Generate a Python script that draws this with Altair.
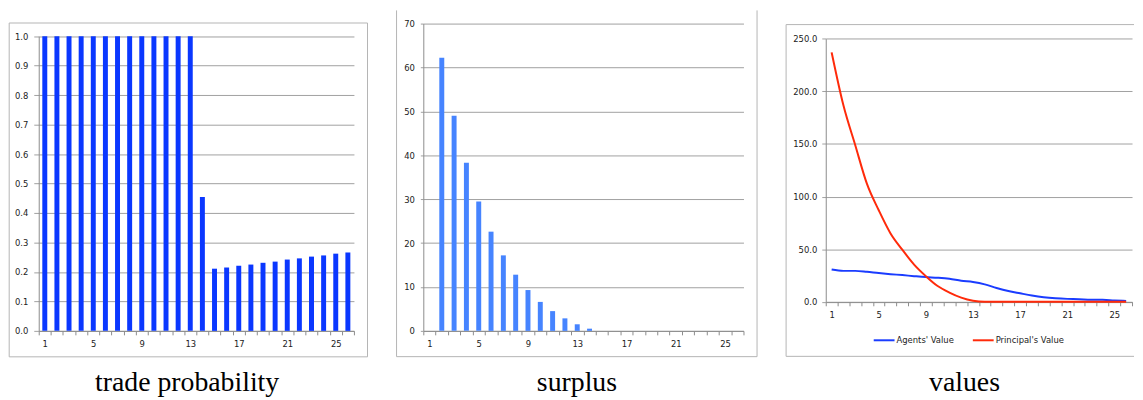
import altair as alt
import pandas as pd

# ---------------- data ----------------
periods = list(range(1, 27))
trade_prob = [1.0, 1.0, 1.0, 1.0, 1.0, 1.0, 1.0, 1.0, 1.0, 1.0, 1.0, 1.0, 1.0,
              0.454, 0.211, 0.215, 0.221, 0.225, 0.231, 0.235, 0.242, 0.246,
              0.252, 0.256, 0.262, 0.266]
surplus = [0.0, 62.2, 49.0, 38.3, 29.5, 22.6, 17.2, 12.8, 9.3, 6.6, 4.5, 2.85,
           1.5, 0.5, 0.0, 0.0, 0.0, 0.0, 0.0, 0.0, 0.0, 0.0, 0.0, 0.0, 0.0, 0.0]
agents_value = [30.7, 29.4, 29.4, 28.5, 27.3, 26.3, 25.4, 24.4, 23.5, 22.9, 21.9,
                20.0, 18.8, 16.6, 13.2, 10.3, 8.1, 6.0, 4.4, 3.4, 2.8, 2.5, 1.9,
                1.9, 1.3, 0.9]
principal_value = [237.0, 186.7, 149.0, 112.0, 87.0, 65.0, 49.5, 35.4, 24.4, 15.0,
                   8.8, 4.0, 1.0, 0.0, 0.0, 0.0, 0.0, 0.0, 0.0, 0.0, 0.0, 0.0,
                   0.0, 0.0, 0.0, 0.0]
series_names = ["Agents' Value", "Principal's Value"]
panel_titles = ["trade probability", "surplus", "values"]
y_ticks_1 = [0.0, 0.1, 0.2, 0.3, 0.4, 0.5, 0.6, 0.7, 0.8, 0.9, 1.0]
y_ticks_2 = [0, 10, 20, 30, 40, 50, 60, 70]
y_ticks_3 = [0, 50, 100, 150, 200, 250]

df1 = pd.DataFrame({"period": periods, "value": trade_prob})
df2 = pd.DataFrame({"period": periods, "value": surplus})
df3 = pd.DataFrame({
    "period": periods + periods,
    "value": agents_value + principal_value,
    "series": [series_names[0]] * len(periods) + [series_names[1]] * len(periods),
})
one = pd.DataFrame({"k": [0]})

# ---------------- style ----------------
LAB_FONT = "DejaVu Sans"
LAB_SIZE = 8.5
LAB_COLOR = "#222222"
GRID = "#a0a0a0"
AXIS = "#8c8c8c"
BORDER = "#b4b4b4"
TITLE_FONT = "Liberation Serif"
TITLE_SIZE = 28
TITLE_Y = 370.7   # baseline, relative to common plot origin

label_expr = "datum.value % 4 == 1 ? datum.label : ''"


def x_axis(pad):
    return alt.Axis(title=None, grid=False, tickBand="extent", labelExpr=label_expr,
                    labelAngle=0, labelOverlap=False, tickSize=4, labelPadding=pad,
                    labelFont=LAB_FONT, labelFontSize=LAB_SIZE, labelColor=LAB_COLOR,
                    domainColor=AXIS, tickColor=AXIS)


def y_axis(values, fmt, tick, pad):
    return alt.Axis(title=None, values=values, format=fmt, grid=True, gridColor=GRID,
                    tickSize=tick, labelPadding=pad, labelFont=LAB_FONT,
                    labelFontSize=LAB_SIZE, labelColor=LAB_COLOR, domainColor=AXIS,
                    tickColor=GRID)


band = alt.Scale(type="band", paddingInner=0, paddingOuter=0)


def rule(x1, x2, y1, y2, opacity=1.0):
    return alt.Chart(one).mark_rule(color=BORDER, strokeWidth=1, opacity=opacity).encode(
        x=alt.value(x1), x2=alt.value(x2), y=alt.value(y1), y2=alt.value(y2))


def title_text(txt, cx):
    return alt.Chart(pd.DataFrame({"t": [txt]})).mark_text(
        font=TITLE_FONT, fontSize=TITLE_SIZE, align="center", baseline="alphabetic",
        color="#000000").encode(text="t:N", x=alt.value(cx), y=alt.value(TITLE_Y))


# ---------------- panel 1 ----------------
W1, H1 = 318, 310
border1 = alt.Chart(one).mark_rect(fillOpacity=0, stroke=BORDER, strokeWidth=1).encode(
    x=alt.value(-29.8), x2=alt.value(331.7), y=alt.value(-0.6), y2=alt.value(336.2))
bars1 = alt.Chart(df1).mark_bar(width=5, color="#0a37ff").encode(
    x=alt.X("period:O", scale=band, axis=x_axis(4.5)),
    y=alt.Y("value:Q", scale=alt.Scale(domain=[0, 1], nice=False, range=[H1, 12.7]),
            axis=y_axis(y_ticks_1, ".1f", 5, 6)),
)
p1 = alt.layer(border1, bars1, title_text(panel_titles[0], 149.7)).properties(
    width=W1, height=H1)

# ---------------- panel 2 ----------------
W2, H2 = 323, 310
b2l = rule(-27, -27, -13.3, 336)
b2r = rule(336.7, 336.7, -13.3, 336)
b2b = rule(-27, 336.7, 336, 336)
bars2 = alt.Chart(df2).mark_bar(width=5, color="#4684ff").encode(
    x=alt.X("period:O", scale=band, axis=x_axis(4.5)),
    y=alt.Y("value:Q", scale=alt.Scale(domain=[0, 70], nice=False),
            axis=y_axis(y_ticks_2, "d", 3, 6)),
)
p2 = alt.layer(b2l, b2r, b2b, bars2, title_text(panel_titles[1], 155)).properties(
    width=W2, height=H2)

# ---------------- panel 3 ----------------
W3, H3 = 309, 280.7
b3l = rule(-40, -40, 1.0, 335.7)
b3t = rule(-40, 311, 1.0, 1.0)
b3b = rule(-40, 311, 335.7, 335.7)
lines3 = alt.Chart(df3).mark_line(strokeWidth=2, interpolate="monotone").encode(
    x=alt.X("period:O", scale=band, bandPosition=0.5, axis=x_axis(5)),
    y=alt.Y("value:Q", scale=alt.Scale(domain=[0, 250], nice=False, range=[H3, 15.2]),
            axis=y_axis(y_ticks_3, ".1f", 4, 5)),
    color=alt.Color("series:N",
                    scale=alt.Scale(domain=series_names, range=["#1a3cff", "#ff2a0a"]),
                    legend=alt.Legend(title=None, orient="none", legendX=841.4, legendY=308,
                                      direction="horizontal", symbolType="stroke",
                                      symbolSize=441, symbolStrokeWidth=2,
                                      labelFont=LAB_FONT, labelFontSize=LAB_SIZE,
                                      labelColor=LAB_COLOR, labelOffset=1,
                                      columnPadding=15)),
)
p3 = alt.layer(b3l, b3t, b3b, lines3, title_text(panel_titles[2], 140)).properties(
    width=W3, height=H3)

chart = alt.hconcat(p1, p2, p3, spacing=27).properties(padding=0).configure_view(
    strokeWidth=0)

chart.save("out.html", embed_options={"renderer": "svg", "actions": False})
